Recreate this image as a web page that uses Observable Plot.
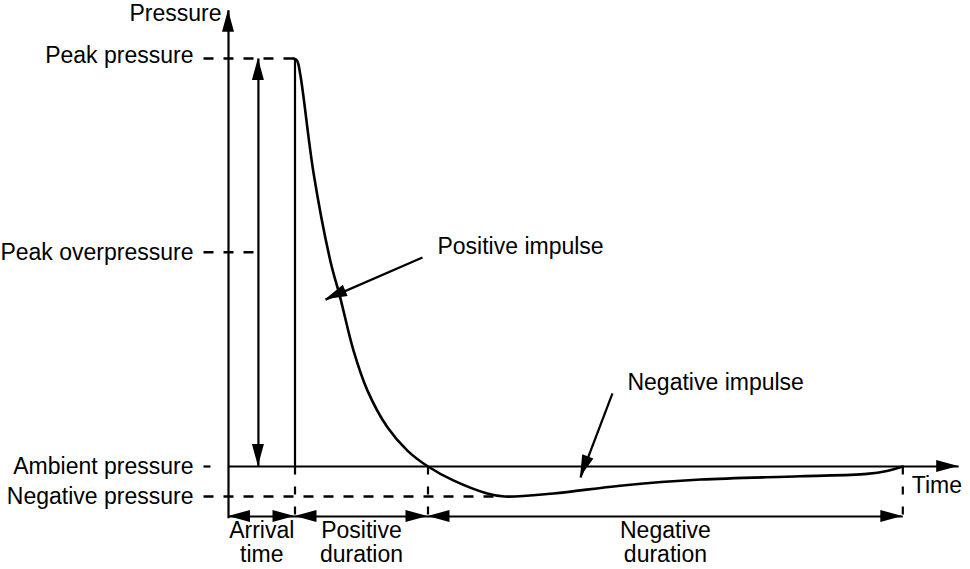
<!DOCTYPE html>
<html>
<head>
<meta charset="utf-8">
<script src="https://cdn.jsdelivr.net/npm/d3@7"></script>
<script src="https://cdn.jsdelivr.net/npm/@observablehq/plot@0.6"></script>
<style>
  html, body { margin: 0; padding: 0; background: #fff; }
  #chart { width: 970px; height: 569px; }
</style>
</head>
<body>
<div id="chart"></div>
<script>
// ---- Data (time in arbitrary units, pressure relative to peak overpressure) ----
const levelNames = ["Peak pressure", "Peak overpressure", "Ambient pressure", "Negative pressure"];
const levelValues = [1.0, 0.525, 0.0, -0.0735];

const phaseNames = ["Arrival\ntime", "Positive\nduration", "Negative\nduration"];
const phaseStart = [0, 1, 3];
const phaseEnd = [1, 3, 10.14];

const curveTime = [0.98, 1.03, 1.08, 1.28, 1.53, 1.68, 1.88, 2.09, 2.39, 2.69, 3.0, 3.38, 3.89, 4.15, 4.89, 5.89, 7.1, 8.6, 9.6, 9.9, 10.14];
const curvePressure = [1.0, 0.995, 0.96, 0.718, 0.505, 0.414, 0.284, 0.186, 0.096, 0.039, 0.0, -0.034, -0.066, -0.0735, -0.066, -0.047, -0.032, -0.024, -0.018, -0.011, 0.0];

const impulseNames = ["Positive impulse", "Negative impulse"];
const impulseTailTime = [2.917, 5.774];
const impulseTailPressure = [0.512, 0.179];
const impulseTipTime = [1.459, 5.293];
const impulseTipPressure = [0.409, -0.027];

const axisTimeMax = 10.98;
const axisPressureMax = 1.118;
const axisPressureMin = -0.127;
const durationLevel = -0.1225;
const overpressureMarkerTime = 0.45;
const labelStartTime = -0.376;
const negativeDashEnd = 4.1;

// ---- Derived tables ----
const curve = curveTime.map((t, i) => ({t, p: curvePressure[i]}));
const levels = levelNames.map((name, i) => ({name, p: levelValues[i]}));
const phases = phaseNames.map((name, i) => ({name, t1: phaseStart[i], t2: phaseEnd[i], mid: (phaseStart[i] + phaseEnd[i]) / 2}));
const impulses = impulseNames.map((name, i) => ({name, t1: impulseTailTime[i], p1: impulseTailPressure[i], t2: impulseTipTime[i], p2: impulseTipPressure[i]}));

const xDomain = [-228 / 66.5, 742 / 66.5];
const yDomain = [(466 - 569) / 408, 466 / 408];

// Dashed guide lines
const dashedH = [
  {t1: labelStartTime, t2: phaseStart[1], p: levelValues[0]},
  {t1: labelStartTime, t2: overpressureMarkerTime, p: levelValues[1]},
  {t1: labelStartTime, t2: negativeDashEnd, p: levelValues[3]}
];
const dashedV = [phaseEnd[0], phaseEnd[1], phaseEnd[2]];

// Arrows (shaft + filled heads)
const arrows = [
  {t1: 0, p1: axisPressureMin, t2: 0, p2: axisPressureMax, heads: ["end"]},
  {t1: 0, p1: 0, t2: axisTimeMax, p2: 0, heads: ["end"]},
  {t1: overpressureMarkerTime, p1: levelValues[2], t2: overpressureMarkerTime, p2: levelValues[0], heads: ["start", "end"]},
  ...phases.map(d => ({t1: d.t1, p1: durationLevel, t2: d.t2, p2: durationLevel, heads: ["start", "end"]})),
  ...impulses.map(d => ({t1: d.t1, p1: d.p1, t2: d.t2, p2: d.p2, heads: ["end"]}))
];

function arrowHeads(list) {
  return function (...args) {
    let scales = args.find(a => a && typeof a.x === "function" && typeof a.y === "function");
    if (!scales) {
      scales = {
        x: d3.scaleLinear(xDomain, [0, 970]),
        y: d3.scaleLinear(yDomain, [569, 0])
      };
    }
    const ns = "http://www.w3.org/2000/svg";
    const g = document.createElementNS(ns, "g");
    const L = 22, W = 6;
    for (const a of list) {
      const x1 = scales.x(a.t1), y1 = scales.y(a.p1), x2 = scales.x(a.t2), y2 = scales.y(a.p2);
      for (const h of a.heads) {
        const [tx, ty, fx, fy] = h === "end" ? [x2, y2, x1, y1] : [x1, y1, x2, y2];
        const ang = Math.atan2(ty - fy, tx - fx);
        const bx = tx - L * Math.cos(ang), by = ty - L * Math.sin(ang);
        const ax = bx + W * Math.sin(ang), ay = by - W * Math.cos(ang);
        const cx = bx - W * Math.sin(ang), cy = by + W * Math.cos(ang);
        const path = document.createElementNS(ns, "path");
        path.setAttribute("d", `M${tx},${ty}L${ax},${ay}L${cx},${cy}Z`);
        path.setAttribute("fill", "#000");
        g.appendChild(path);
      }
    }
    return g;
  };
}

const font = "'Liberation Sans', Arial, Helvetica, sans-serif";
const fs = 23;

const chart = Plot.plot({
  width: 970,
  height: 569,
  margin: 0,
  x: {domain: xDomain, axis: null},
  y: {domain: yDomain, axis: null},
  style: {fontFamily: font, background: "#fff", color: "#000"},
  marks: [
    // dashed horizontal guides
    Plot.link(dashedH, {x1: "t1", x2: "t2", y1: "p", y2: "p", stroke: "#000", strokeWidth: 2.4, strokeDasharray: "10,10"}),
    // ambient label tick
    Plot.link([levelValues[2]], {x1: labelStartTime, x2: labelStartTime + 0.105, y1: d => d, y2: d => d, stroke: "#000", strokeWidth: 2.2}),
    // dashed verticals below ambient
    Plot.link(dashedV, {x1: d => d, x2: d => d, y1: 0, y2: durationLevel, stroke: "#000", strokeWidth: 2.2, strokeDasharray: "8,12"}),
    // arrival solid vertical
    Plot.link([phaseEnd[0]], {x1: d => d, x2: d => d, y1: levelValues[0], y2: 0, stroke: "#000", strokeWidth: 2.2}),
    // arrow shafts
    Plot.link(arrows, {x1: "t1", y1: "p1", x2: "t2", y2: "p2", stroke: "#000", strokeWidth: 2.2}),
    // pressure-time curve
    Plot.line(curve, {x: "t", y: "p", curve: "catmull-rom", stroke: "#000", strokeWidth: 2.6}),
    arrowHeads(arrows),
    // level labels
    Plot.text(levels.filter(d => d.name !== "Peak pressure"), {x: labelStartTime, y: "p", text: "name", textAnchor: "end", dx: -10, fontSize: fs, fill: "#000"}),
    Plot.text(levels.filter(d => d.name === "Peak pressure"), {x: labelStartTime, y: "p", text: "name", textAnchor: "end", dx: -10, dy: -3, fontSize: fs, fill: "#000"}),
    // phase labels
    Plot.text(phases, {x: "mid", y: durationLevel, text: "name", lineAnchor: "top", dy: 4, lineHeight: 1.06, fontSize: fs, fill: "#000"}),
    // impulse labels
    Plot.text(impulses, {x: "t1", y: "p1", text: "name", textAnchor: "start", dx: 15, dy: -11, fontSize: fs, fill: "#000"}),
    // axis labels
    Plot.text(["Pressure"], {x: 0, y: axisPressureMax, text: d => d, textAnchor: "end", dx: -7, dy: 3, fontSize: fs, fill: "#000"}),
    Plot.text(["Time"], {x: phaseEnd[2], y: 0, text: d => d, textAnchor: "start", dx: 9, dy: 19, fontSize: fs, fill: "#000"})
  ]
});

document.getElementById("chart").appendChild(chart);
</script>
</body>
</html>
